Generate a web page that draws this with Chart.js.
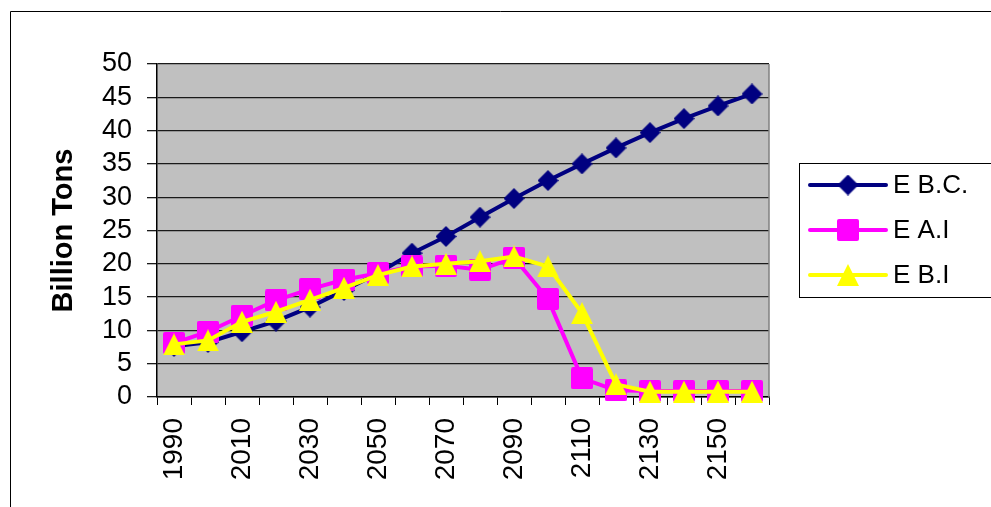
<!DOCTYPE html>
<html><head><meta charset="utf-8">
<script src="https://cdn.jsdelivr.net/npm/chart.js@4.4.1/dist/chart.umd.min.js"></script>
<style>html,body{margin:0;padding:0;background:#fff;overflow:hidden}#wrap{position:relative;width:991px;height:507px}</style>
</head><body><div id="wrap"><canvas id="c"></canvas></div>
<script>
const years = ['1990','2000','2010','2020','2030','2040','2050','2060','2070','2080','2090','2100','2110','2120','2130','2140','2150','2160'];
const ebc = [7.6, 8.2, 9.8, 11.4, 13.5, 16.0, 18.6, 21.6, 24.1, 27.0, 29.8, 32.5, 35.0, 37.4, 39.7, 41.8, 43.7, 45.5];
const eai = [8.1, 9.8, 12.2, 14.5, 16.2, 17.6, 18.6, 19.6, 19.7, 19.1, 20.9, 14.7, 2.8, 1.0, 0.9, 0.9, 0.9, 0.9];
const ebi = [7.9, 8.5, 11.3, 12.8, 14.6, 16.4, 18.3, 19.6, 20.0, 20.4, 21.1, 19.6, 12.6, 1.9, 0.8, 0.8, 0.8, 0.8];
const yTickValues = [0, 5, 10, 15, 20, 25, 30, 35, 40, 45, 50];
const seriesNames = ['E B.C.', 'E A.I', 'E B.I'];
const seriesColors = ['#000080', '#FF00FF', '#FFFF00'];
const yTitle = 'Billion Tons';
const FONT = "'Liberation Sans', Arial, sans-serif";

function markerCanvas(kind, color, size) {
  const c = document.createElement('canvas');
  c.width = size; c.height = size;
  const g = c.getContext('2d');
  g.fillStyle = color;
  g.beginPath();
  if (kind === 'diamond') {
    g.moveTo(size / 2, 0); g.lineTo(size, size / 2); g.lineTo(size / 2, size); g.lineTo(0, size / 2);
  } else if (kind === 'square') {
    const r = 2;
    g.moveTo(r, 0); g.lineTo(size - r, 0); g.quadraticCurveTo(size, 0, size, r);
    g.lineTo(size, size - r); g.quadraticCurveTo(size, size, size - r, size);
    g.lineTo(r, size); g.quadraticCurveTo(0, size, 0, size - r);
    g.lineTo(0, r); g.quadraticCurveTo(0, 0, r, 0);
  } else {
    g.moveTo(size / 2, 0); g.lineTo(size, size); g.lineTo(0, size);
  }
  g.closePath();
  g.fill();
  return c;
}
const markers = [
  markerCanvas('diamond', seriesColors[0], 21),
  markerCanvas('square', seriesColors[1], 22),
  markerCanvas('triangle', seriesColors[2], 22)
];

const decor = {
  id: 'decor',
  beforeDraw(chart) {
    const {ctx, chartArea: a} = chart;
    ctx.save();
    ctx.fillStyle = '#fff';
    ctx.fillRect(0, 0, chart.width, chart.height);
    ctx.strokeStyle = '#000'; ctx.lineWidth = 1;
    ctx.beginPath();
    ctx.moveTo(10.5, chart.height); ctx.lineTo(10.5, 11.5); ctx.lineTo(chart.width, 11.5);
    ctx.stroke();
    ctx.fillStyle = '#C0C0C0';
    ctx.fillRect(a.left, a.top, a.right - a.left, a.bottom - a.top);
    ctx.restore();
  },
  beforeDatasetsDraw(chart) {
    const {ctx, chartArea: a} = chart;
    ctx.save();
    ctx.strokeStyle = '#808080'; ctx.lineWidth = 1.5;
    ctx.beginPath(); ctx.moveTo(a.right, a.top); ctx.lineTo(a.right, a.bottom); ctx.stroke();
    ctx.restore();
  },
  afterDraw(chart) {
    const {ctx} = chart;
    ctx.save();
    ctx.strokeStyle = '#000'; ctx.lineWidth = 1;
    ctx.strokeRect(799.5, 163.5, 300, 134);
    const ys = [185, 230, 275];
    ctx.font = '26px ' + FONT;
    ctx.textBaseline = 'middle';
    ctx.textAlign = 'left';
    for (let i = 0; i < 3; i++) {
      ctx.strokeStyle = seriesColors[i]; ctx.lineWidth = 4; ctx.lineCap = 'round';
      ctx.beginPath(); ctx.moveTo(810, ys[i]); ctx.lineTo(886, ys[i]); ctx.stroke();
      const m = markers[i];
      ctx.drawImage(m, 848 - m.width / 2, ys[i] - m.height / 2);
      ctx.fillStyle = '#000';
      ctx.fillText(seriesNames[i], 893, ys[i] + 1);
    }
    ctx.restore();
  }
};

const seriesData = [ebc, eai, ebi];
const datasets = seriesData.map((d, i) => ({
  label: seriesNames[i],
  data: d,
  borderColor: seriesColors[i],
  backgroundColor: seriesColors[i],
  borderWidth: 4,
  pointStyle: markers[i],
  pointRadius: 11,
  pointHoverRadius: 11,
  tension: 0,
  clip: false,
  order: 3 - i
}));

new Chart(document.getElementById('c'), {
  type: 'line',
  data: {labels: years, datasets},
  plugins: [decor],
  options: {
    responsive: true,
    maintainAspectRatio: false,
    animation: false,
    devicePixelRatio: 1,
    layout: {padding: {left: 40, top: 64, right: 222, bottom: 0}},
    plugins: {legend: {display: false}, tooltip: {enabled: false}},
    scales: {
      x: {
        type: 'category',
        offset: true,
        grid: {offset: true, drawOnChartArea: false, drawTicks: true, tickLength: 8, color: '#000', lineWidth: 1},
        border: {display: true, color: '#000', width: 1.5},
        ticks: {
          autoSkip: false, minRotation: 90, maxRotation: 90, padding: 13, color: '#000',
          font: {family: FONT, size: 28},
          callback: (v, i) => (i % 2 === 0 ? years[i] : '')
        },
        afterFit(s) { s.height = 110; }
      },
      y: {
        min: 0, max: 50,
        afterBuildTicks(s) { s.ticks = yTickValues.map(v => ({value: v})); },
        grid: {color: '#1a1a1a', lineWidth: 1.3, drawTicks: true, tickLength: 10},
        border: {display: true, color: '#000', width: 1.5},
        ticks: {autoSkip: false, padding: 15, color: '#000', font: {family: FONT, size: 27}},
        title: {display: true, text: yTitle, color: '#000', font: {family: FONT, size: 29, weight: 'bold'}, padding: {top: 7, bottom: 0}},
        afterFit(s) { s.width = 117; }
      }
    }
  }
});
</script>
</body></html>
